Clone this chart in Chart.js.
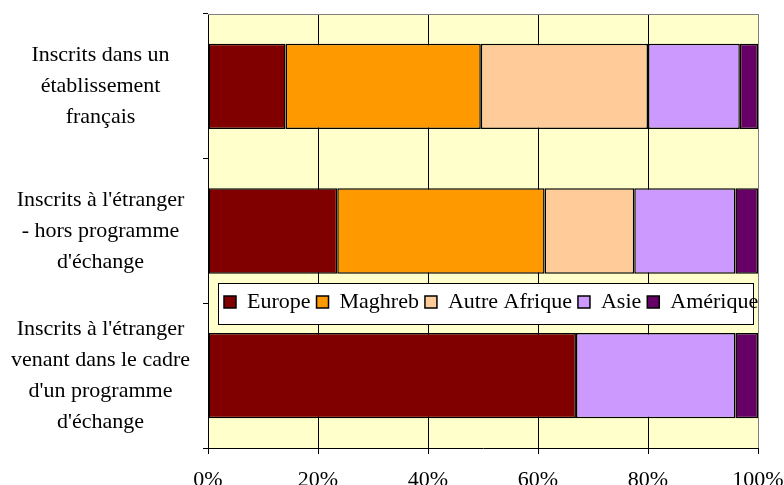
<!DOCTYPE html>
<html>
<head>
<meta charset="utf-8">
<script src="https://cdn.jsdelivr.net/npm/chart.js@4/dist/chart.umd.min.js"></script>
<style>
  html, body { margin: 0; padding: 0; background: #fff; }
  #wrap { width: 784px; height: 485px; }
</style>
</head>
<body>
<div id="wrap"><canvas id="chart" width="784" height="485"></canvas></div>
<script>
// Catégories (axe vertical)
const categories = [
    ["Inscrits dans un", "établissement", "français"],
    ["Inscrits à l'étranger", "- hors programme", "d'échange"],
    ["Inscrits à l'étranger", "venant dans le cadre", "d'un programme", "d'échange"]
];

// Parts en % par origine
const europe       = [14.1, 23.5, 66.9];
const maghreb      = [35.5, 37.7, 0];
const autreAfrique = [30.4, 16.3, 0];
const asie         = [16.7, 18.4, 29.0];
const amerique     = [3.3, 4.1, 4.1];

const xTicks = [0, 20, 40, 60, 80, 100];

const FONT = "'Liberation Serif', 'Times New Roman', serif";

function serie(label, data, color) {
    return {
        label: label,
        data: data,
        backgroundColor: color,
        borderColor: '#000',
        borderWidth: 1.5,
        borderSkipped: false,
        barPercentage: 0.59,
        categoryPercentage: 1
    };
}

// fond jaune de la zone de tracé + cadre gris haut
const plotBg = {
    id: 'plotBg',
    beforeDraw(chart) {
        const { ctx, chartArea: a } = chart;
        ctx.save();
        ctx.fillStyle = '#fff';
        ctx.fillRect(0, 0, chart.width, chart.height);
        ctx.fillStyle = '#FFFFCC';
        ctx.fillRect(a.left, a.top, a.right - a.left, a.bottom - a.top);
        ctx.restore();
    },
    beforeDatasetsDraw(chart) {
        const { ctx, chartArea: a } = chart;
        ctx.save();
        ctx.strokeStyle = '#808080';
        ctx.lineWidth = 1;
        ctx.beginPath();
        ctx.moveTo(a.left, a.top + 0.5);
        ctx.lineTo(a.right, a.top + 0.5);
        ctx.stroke();
        ctx.restore();
    }
};

// légende posée dans la zone de tracé, avec cadre blanc
const legendBox = { left: 218, top: 283, right: 753, bottom: 324 };
const legendInside = {
    id: 'legendInside',
    beforeLayout(chart) {
        const lg = chart.legend;
        if (lg && !lg._inside) {
            const fit = lg.fit;
            lg.fit = function () {
                this.maxWidth = 2000;
                fit.call(this);
                this.height = 0;
            };
            lg._inside = true;
        }
    },
    afterLayout(chart) {
        const lg = chart.legend;
        if (!lg) return;
        // plus large que le cadre pour éviter le retour à la ligne, le cadre coupe ensuite
        lg.left = legendBox.left;
        lg.right = chart.width + 20;
        lg.top = legendBox.top + 2;
        lg.bottom = legendBox.bottom;
        lg.width = lg.right - lg.left;
        lg.height = lg.bottom - lg.top;
    },
    afterDraw(chart) {
        const { ctx } = chart;
        const b = legendBox;
        ctx.save();
        ctx.fillStyle = '#fff';
        ctx.fillRect(b.left, b.top, b.right - b.left, b.bottom - b.top);
        ctx.strokeStyle = '#000';
        ctx.lineWidth = 1;
        ctx.strokeRect(b.left + 0.5, b.top + 0.5, b.right - b.left, b.bottom - b.top);
        ctx.beginPath();
        ctx.rect(b.left, b.top, b.right - b.left, b.bottom - b.top);
        ctx.clip();
        chart.legend.draw();
        ctx.restore();
    }
};

Chart.defaults.color = '#000';
Chart.defaults.font.family = FONT;

new Chart(document.getElementById('chart'), {
    type: 'bar',
    data: {
        labels: categories,
        datasets: [
            serie('Europe', europe, '#800000'),
            serie('Maghreb', maghreb, '#FF9900'),
            serie('Autre Afrique', autreAfrique, '#FFCC99'),
            serie('Asie', asie, '#CC99FF'),
            serie('Amérique', amerique, '#660066')
        ]
    },
    options: {
        indexAxis: 'y',
        responsive: false,
        animation: false,
        layout: { padding: { top: 14, right: 26, left: 0, bottom: 0 } },
        plugins: {
            tooltip: { enabled: false },
            legend: {
                position: 'top',
                align: 'start',
                labels: {
                    boxWidth: 12,
                    boxHeight: 12,
                    padding: 6,
                    color: '#000',
                    font: { family: FONT, size: 22 }
                }
            }
        },
        scales: {
            x: {
                stacked: true,
                min: 0,
                max: 100,
                afterBuildTicks: (s) => { s.ticks = xTicks.map(v => ({ value: v })); },
                afterFit: (s) => { s.height = 37; s.paddingLeft = 0; s.paddingRight = 0; },
                ticks: {
                    callback: (v) => v + '%',
                    font: { family: FONT, size: 22 },
                    color: '#000',
                    padding: 13,
                    maxRotation: 0
                },
                grid: {
                    color: (c) => (c.tick && c.tick.value === 100) ? '#808080' : '#000',
                    lineWidth: 1,
                    tickLength: 6,
                    tickColor: '#000'
                },
                border: { color: '#000', width: 1 }
            },
            y: {
                stacked: true,
                afterFit: (s) => { s.width = 208; s.paddingTop = 0; s.paddingBottom = 0; },
                ticks: {
                    crossAlign: 'center',
                    padding: 13,
                    color: '#000',
                    font: { family: FONT, size: 22, lineHeight: 1.41 }
                },
                grid: {
                    drawOnChartArea: false,
                    drawTicks: true,
                    tickLength: 5,
                    tickColor: '#000'
                },
                border: { color: '#000', width: 1 }
            }
        }
    },
    plugins: [plotBg, legendInside]
});
</script>
</body>
</html>
